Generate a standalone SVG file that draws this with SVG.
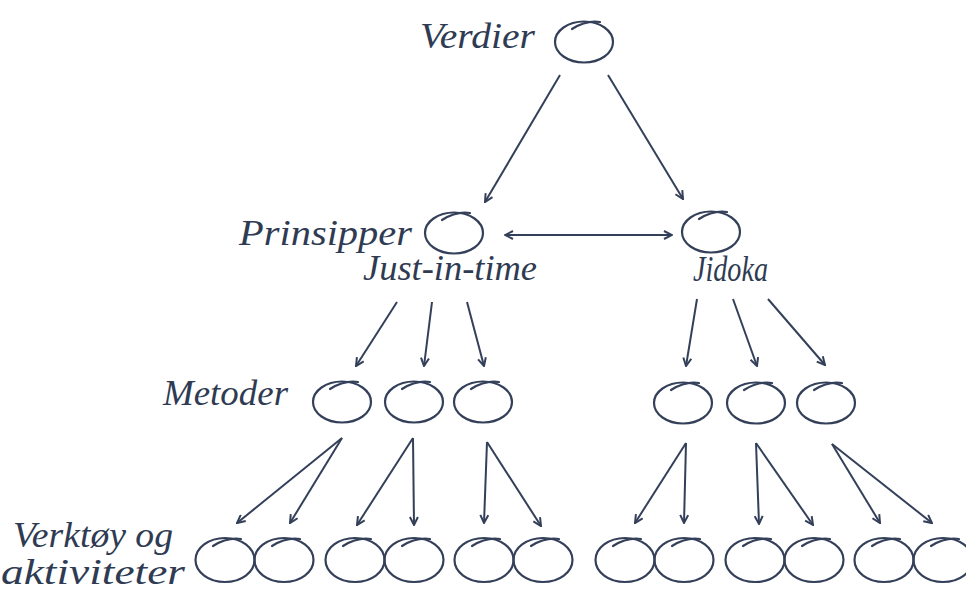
<svg xmlns="http://www.w3.org/2000/svg" xmlns:xlink="http://www.w3.org/1999/xlink" width="966" height="598" viewBox="0 0 966 598">
<style>
.lbl{font-family:"Liberation Serif","DejaVu Serif",serif;font-style:italic;font-size:35px;fill:#2f3b52}
.ov{fill:none;stroke:#34405a;stroke-width:2.2;stroke-linecap:round}
.ar{fill:none;stroke:#34405a;stroke-width:2;marker-end:url(#ah)}
</style>
<defs>
<marker id="ah" viewBox="0 0 10 10" refX="9" refY="5" markerWidth="10" markerHeight="10" markerUnits="userSpaceOnUse" orient="auto-start-reverse">
<path d="M1,1 L9,5 L1,9" fill="none" stroke="#34405a" stroke-width="2" stroke-linejoin="miter"/>
</marker>
<g id="oval">
<ellipse class="ov" cx="0" cy="0" rx="29" ry="20.5"/>
<path class="ov" d="M-12,-13 Q2,-22 16,-20"/>
</g>
<g id="ovalb">
<ellipse class="ov" cx="0" cy="0" rx="29.5" ry="22"/>
<path class="ov" d="M-12,-14 Q2,-23 16,-21"/>
</g>
</defs>
<rect width="966" height="598" fill="#ffffff"/>

<g id="labels">
<text class="lbl" x="420" y="48" textLength="115" lengthAdjust="spacingAndGlyphs">Verdier</text>
<text class="lbl" x="239" y="245" textLength="173" lengthAdjust="spacingAndGlyphs">Prinsipper</text>
<text class="lbl" x="363" y="280" textLength="174" lengthAdjust="spacingAndGlyphs">Just-in-time</text>
<text class="lbl" x="693" y="281" textLength="75" lengthAdjust="spacingAndGlyphs">Jidoka</text>
<text class="lbl" x="163" y="405" textLength="125" lengthAdjust="spacingAndGlyphs">Metoder</text>
<text class="lbl" x="13" y="547" textLength="160" lengthAdjust="spacingAndGlyphs">Verktøy og</text>
<text class="lbl" x="1" y="584" textLength="184" lengthAdjust="spacingAndGlyphs">aktiviteter</text>
</g>

<g id="n-verdier"><use xlink:href="#oval" x="584" y="42"/></g>
<g id="n-jit"><use xlink:href="#oval" x="454" y="233"/></g>
<g id="n-jidoka"><use xlink:href="#oval" x="711" y="232"/></g>
<g id="n-m1"><use xlink:href="#oval" x="342" y="402"/></g>
<g id="n-m2"><use xlink:href="#oval" x="414" y="402"/></g>
<g id="n-m3"><use xlink:href="#oval" x="483" y="402"/></g>
<g id="n-m4"><use xlink:href="#oval" x="683" y="403"/></g>
<g id="n-m5"><use xlink:href="#oval" x="756" y="403"/></g>
<g id="n-m6"><use xlink:href="#oval" x="826" y="403"/></g>
<g id="n-v1"><use xlink:href="#ovalb" x="225" y="560"/></g>
<g id="n-v2"><use xlink:href="#ovalb" x="284" y="560"/></g>
<g id="n-v3"><use xlink:href="#ovalb" x="355" y="560"/></g>
<g id="n-v4"><use xlink:href="#ovalb" x="414" y="560"/></g>
<g id="n-v5"><use xlink:href="#ovalb" x="484" y="560"/></g>
<g id="n-v6"><use xlink:href="#ovalb" x="543" y="560"/></g>
<g id="n-v7"><use xlink:href="#ovalb" x="625" y="560"/></g>
<g id="n-v8"><use xlink:href="#ovalb" x="684" y="560"/></g>
<g id="n-v9"><use xlink:href="#ovalb" x="755" y="560"/></g>
<g id="n-v10"><use xlink:href="#ovalb" x="814" y="560"/></g>
<g id="n-v11"><use xlink:href="#ovalb" x="884" y="560"/></g>
<g id="n-v12"><use xlink:href="#ovalb" x="943" y="560"/></g>

<g id="connectors">
<line class="ar" x1="560" y1="75" x2="485" y2="202"/>
<line class="ar" x1="608" y1="75" x2="683" y2="199"/>
<line class="ar" x1="505" y1="235" x2="672" y2="235" marker-start="url(#ah)"/>
<line class="ar" x1="397" y1="302" x2="356" y2="366"/>
<line class="ar" x1="432" y1="302" x2="424" y2="366"/>
<line class="ar" x1="467" y1="302" x2="484" y2="366"/>
<line class="ar" x1="697" y1="299" x2="686" y2="366"/>
<line class="ar" x1="733" y1="299" x2="757" y2="366"/>
<line class="ar" x1="768" y1="299" x2="825" y2="365"/>
<line class="ar" x1="342" y1="438" x2="237" y2="523"/>
<line class="ar" x1="342" y1="438" x2="290" y2="523"/>
<line class="ar" x1="413" y1="438" x2="357" y2="525"/>
<line class="ar" x1="413" y1="438" x2="414" y2="525"/>
<line class="ar" x1="487" y1="442" x2="484" y2="523"/>
<line class="ar" x1="487" y1="442" x2="541" y2="526"/>
<line class="ar" x1="686" y1="443" x2="635" y2="523"/>
<line class="ar" x1="686" y1="443" x2="684" y2="523"/>
<line class="ar" x1="756" y1="443" x2="759" y2="524"/>
<line class="ar" x1="756" y1="443" x2="813" y2="525"/>
<line class="ar" x1="832" y1="444" x2="880" y2="523"/>
<line class="ar" x1="832" y1="444" x2="932" y2="523"/>
</g>
</svg>
